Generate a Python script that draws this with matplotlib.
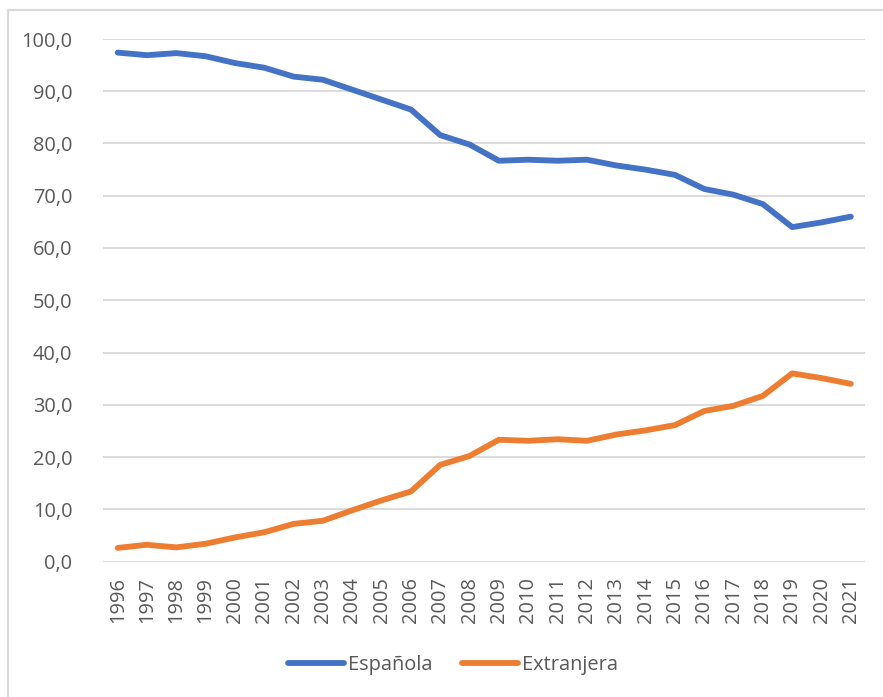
import matplotlib
matplotlib.use("Agg")
import matplotlib.pyplot as plt
from matplotlib.lines import Line2D

years = list(range(1996, 2022))
espanola = [97.4, 96.9, 97.3, 96.7, 95.4, 94.5, 92.8, 92.2, 90.3, 88.4, 86.5, 81.6, 79.8,
            76.7, 76.9, 76.7, 76.9, 75.8, 75.0, 74.0, 71.3, 70.2, 68.4, 64.0, 64.9, 66.0]
extranjera = [2.6, 3.2, 2.7, 3.4, 4.6, 5.6, 7.2, 7.8, 9.8, 11.7, 13.4, 18.5, 20.2,
              23.3, 23.1, 23.4, 23.1, 24.3, 25.1, 26.1, 28.8, 29.8, 31.7, 36.0, 35.1, 34.0]
series_names = ["Española", "Extranjera"]
y_ticks = [0, 10, 20, 30, 40, 50, 60, 70, 80, 90, 100]

BLUE = "#4472C4"
ORANGE = "#ED7D31"
GRID = "#D9D9D9"
TXT = "#595959"

plt.rcParams['font.family'] = ['Open Sans', 'DejaVu Sans']

W, H = 883, 697
fig = plt.figure(figsize=(W / 100, H / 100), dpi=100)
ax = fig.add_axes([103 / W, (H - 561.5) / H, (865.5 - 103) / W, (561.5 - 39) / H])

ax.plot(years, espanola, color=BLUE, lw=4.2, solid_capstyle='round', solid_joinstyle='round', label=series_names[0], zorder=3)
ax.plot(years, extranjera, color=ORANGE, lw=4.2, solid_capstyle='round', solid_joinstyle='round', label=series_names[1], zorder=3)

ax.set_xlim(years[0] - 0.5, years[-1] + 0.5)
ax.set_ylim(0, 100)
ax.set_yticks(y_ticks)
ax.set_yticklabels([f"{v:.1f}".replace(".", ",") for v in y_ticks])
ax.set_xticks(years)
ax.set_xticklabels([str(y) for y in years], rotation=90)

for s in ax.spines.values():
    s.set_visible(False)
ax.grid(axis='y', color=GRID, lw=1.3, zorder=0)
ax.set_axisbelow(True)
ax.tick_params(axis='both', length=0, labelsize=14.4, colors=TXT)
ax.tick_params(axis='y', pad=22)
ax.tick_params(axis='x', pad=11)
for lab in ax.get_xticklabels():
    lab.set_verticalalignment('top')

handles = [Line2D([], [], color=BLUE, lw=4.2, solid_capstyle='round'),
           Line2D([], [], color=ORANGE, lw=4.2, solid_capstyle='round')]
leg = fig.legend(handles, series_names, loc='center', bbox_to_anchor=(453 / W, (H - 665) / H),
                 ncol=2, frameon=False, fontsize=14.4, handlelength=2.8, handletextpad=0.2,
                 columnspacing=1.5, labelcolor=TXT)

# chart border (top and left visible)
fig.add_artist(Line2D([8 / W, 1], [(H - 10) / H, (H - 10) / H], color=GRID, lw=1.5, transform=fig.transFigure))
fig.add_artist(Line2D([8 / W, 8 / W], [0, (H - 10) / H], color=GRID, lw=1.5, transform=fig.transFigure))

fig.savefig("out.png", dpi=100)
